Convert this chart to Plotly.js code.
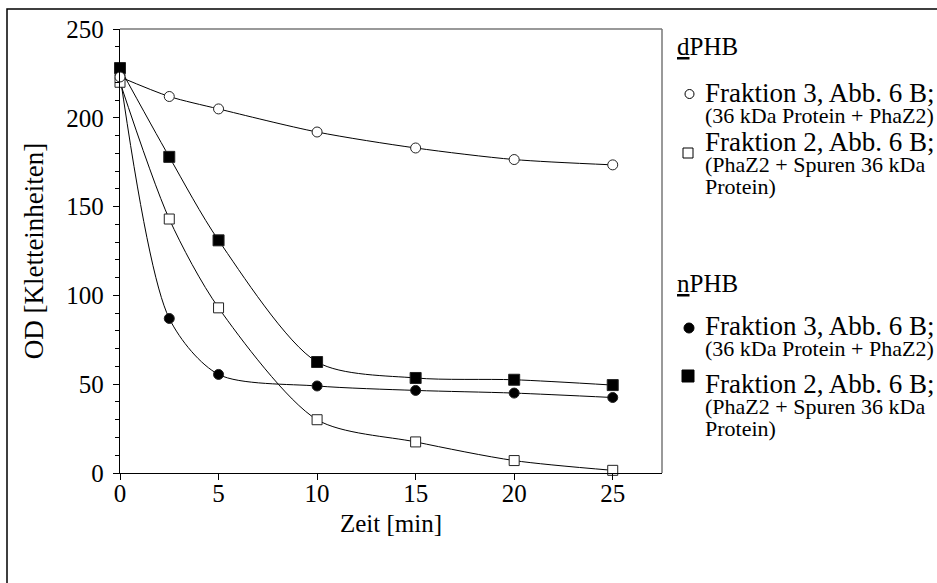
<!DOCTYPE html>
<html>
<head>
<meta charset="utf-8">
<script src="https://cdn.plot.ly/plotly-3.0.1.min.js"></script>
<style>html,body{margin:0;padding:0;background:#fff;}#chart{width:937px;height:583px;}</style>
</head>
<body>
<div id="chart"></div>
<script>
// Data (time in minutes, OD in Kletteinheiten)
var time = [0, 2.5, 5, 10, 15, 20, 25];
var dPHB_F3 = [223, 212, 205, 192, 183, 176.5, 173.5];   // open circles
var dPHB_F2 = [220, 143, 93, 30, 17.5, 7, 1.5];          // open squares
var nPHB_F3 = [224, 87, 55.5, 49, 46.5, 45, 42.5];       // filled circles
var nPHB_F2 = [228, 178, 131, 62.5, 53.5, 52.5, 49.5];   // filled squares
var xTicks = [0, 5, 10, 15, 20, 25];
var yTicks = [0, 50, 100, 150, 200, 250];

var FONT = "Liberation Serif";
var W = 937, H = 583;
var L = 120, R = 662, T = 29, B = 473;
function px(x){ return (x - L) / (R - L); }
function py(y){ return (B - y) / (B - T); }

function trace(y, symbol, fill, size){
  return {
    x: time, y: y, type: 'scatter', mode: 'lines+markers',
    line: {shape: 'spline', smoothing: 0.8, color: '#000', width: 1},
    marker: {symbol: symbol, size: size, color: fill, line: {color: '#222', width: 1}},
    cliponaxis: false, showlegend: false, hoverinfo: 'x+y'
  };
}

var data = [
  trace(nPHB_F3, 'circle', '#000', 10),
  trace(dPHB_F2, 'square', '#fff', 10),
  trace(nPHB_F2, 'square', '#000', 11),
  trace(dPHB_F3, 'circle', '#fff', 10)
];

var shapes = [
  // outer frame (left & top visible)
  {type: 'rect', xref: 'paper', yref: 'paper', x0: px(7), x1: px(960), y0: py(9), y1: py(600),
   line: {color: '#000', width: 1.5}, fillcolor: 'rgba(0,0,0,0)', layer: 'below'},
  // grey top and right frame lines of plot area
  {type: 'line', xref: 'paper', yref: 'paper', x0: 0, x1: 1, y0: 1, y1: 1, line: {color: '#777', width: 1.5}},
  {type: 'line', xref: 'paper', yref: 'paper', x0: 1, x1: 1, y0: 0, y1: 1, line: {color: '#777', width: 1.5}},
  // legend symbols
  {type: 'circle', xref: 'paper', yref: 'paper', x0: px(685), x1: px(694), y0: py(89.5), y1: py(98.5),
   line: {color: '#000', width: 1}, fillcolor: '#fff'},
  {type: 'rect', xref: 'paper', yref: 'paper', x0: px(683), x1: px(693), y0: py(148), y1: py(158),
   line: {color: '#000', width: 1}, fillcolor: '#fff'},
  {type: 'circle', xref: 'paper', yref: 'paper', x0: px(684), x1: px(694), y0: py(323), y1: py(333),
   line: {color: '#000', width: 1}, fillcolor: '#000'},
  {type: 'rect', xref: 'paper', yref: 'paper', x0: px(682), x1: px(694), y0: py(370), y1: py(382),
   line: {color: '#000', width: 1}, fillcolor: '#000'}
];

function big(t){ return '<span style="font-size:27px">' + t + '</span>'; }
function small(t){ return '<span style="font-size:22px">' + t + '</span>'; }
function ann(text, x, y, size){
  return {text: text, xref: 'paper', yref: 'paper', x: px(x), y: py(y), xanchor: 'left', yanchor: 'middle',
          showarrow: false, align: 'left', font: {family: FONT, size: size, color: '#000'}};
}
var entryA = big('Fraktion 3, Abb. 6 B;') + '<br>' + small('(36 kDa Protein + PhaZ2)');
var entryB = big('Fraktion 2, Abb. 6 B;') + '<br>' + small('(PhaZ2 + Spuren 36 kDa') + '<br>' + small('Protein)');
var annotations = [
  ann('<u>d</u>PHB', 675, 46, 25),
  ann(entryA, 703, 103, 16.5),
  ann(entryB, 703, 163, 16.5),
  ann('<u>n</u>PHB', 675, 283, 25),
  ann(entryA, 703, 336, 16.5),
  ann(entryB, 703, 405, 16.5)
];

var layout = {
  width: W, height: H,
  margin: {l: L, r: W - R, t: T, b: H - B, pad: 0},
  paper_bgcolor: '#fff', plot_bgcolor: '#fff',
  font: {family: FONT, color: '#000', size: 24},
  xaxis: {
    range: [0, 27.5], tickvals: xTicks, ticktext: xTicks.map(String),
    ticks: 'outside', ticklen: 6, tickwidth: 1, tickcolor: '#000',
    showline: true, linecolor: '#000', linewidth: 1.2, showgrid: false, zeroline: false,
    tickfont: {family: FONT, size: 25}, ticklabelstandoff: -8,
    title: {text: 'Zeit [min]', font: {family: FONT, size: 25}, standoff: 8}
  },
  yaxis: {
    range: [0, 250], tickvals: yTicks, ticktext: yTicks.map(String),
    ticks: 'outside', ticklen: 6, tickwidth: 1, tickcolor: '#000',
    minor: {dtick: 10, ticks: 'outside', ticklen: 4, tickwidth: 1, tickcolor: '#000', showgrid: false},
    showline: true, linecolor: '#000', linewidth: 1.2, showgrid: false, zeroline: false,
    tickfont: {family: FONT, size: 25}, ticklabelstandoff: 4,
    title: {text: 'OD [Kletteinheiten]', font: {family: FONT, size: 27}, standoff: 14}
  },
  shapes: shapes,
  annotations: annotations,
  showlegend: false
};

Plotly.newPlot('chart', data, layout, {displayModeBar: false, staticPlot: true});
</script>
</body>
</html>
